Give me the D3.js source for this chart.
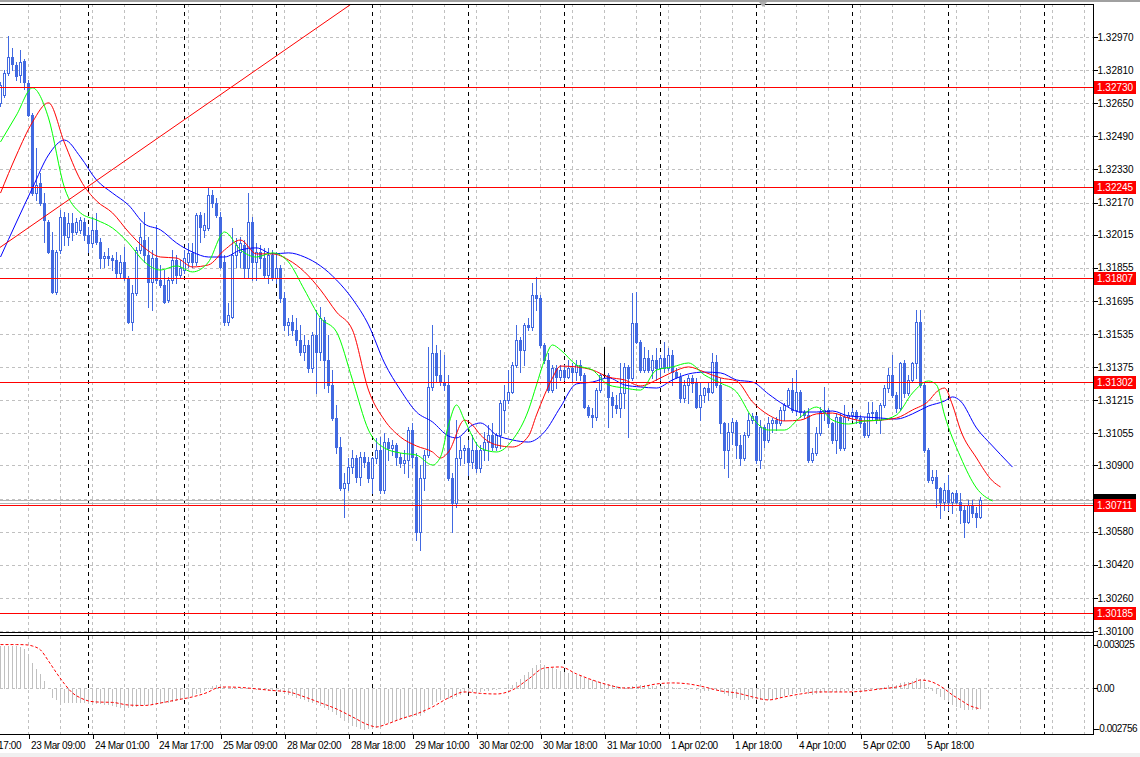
<!DOCTYPE html>
<html><head><meta charset="utf-8">
<script src="https://cdn.jsdelivr.net/npm/d3@7/dist/d3.min.js"></script>
<style>
html,body{margin:0;padding:0;background:#fff;overflow:hidden;}
svg{display:block;font-family:"Liberation Sans",Arial,sans-serif;}
</style></head><body>
<svg id="chart" width="1140" height="757"></svg>
<script>
// ---------------- DATA (H1 bars, bar index 0..245) ----------------
const opens = [1.32652,1.32690,1.32797,1.32874,1.32835,1.32787,1.32854,1.32748,1.32593,1.32216,
1.32265,1.32168,1.32076,1.31941,1.31738,1.31941,1.32100,1.32004,1.32071,1.32028,
1.32038,1.32076,1.32013,1.31975,1.32038,1.31980,1.31902,1.31912,1.31902,1.31893,
1.31830,1.31883,1.31806,1.31593,1.31733,1.31941,1.31989,1.31917,1.31786,1.31902,
1.31796,1.31772,1.31699,1.31796,1.31893,1.31820,1.31844,1.31883,1.31927,1.31883,
1.32110,1.32038,1.32047,1.32207,1.32168,1.32100,1.31883,1.31593,1.31617,1.31917,
1.31931,1.31965,1.31854,1.32076,1.31883,1.31931,1.31902,1.31820,1.31917,1.31806,
1.31854,1.31709,1.31579,1.31593,1.31554,1.31506,1.31448,1.31482,1.31371,1.31530,
1.31448,1.31603,1.31409,1.31289,1.31129,1.30989,1.30791,1.30815,1.30892,1.30936,
1.30844,1.30941,1.30917,1.30839,1.30936,1.30975,1.30781,1.31013,1.30984,1.30999,
1.30941,1.30912,1.30926,1.31071,1.30941,1.30578,1.30839,1.30950,1.31279,1.31443,
1.31337,1.31303,1.31289,1.30839,1.30719,1.30936,1.30975,1.30984,1.30917,1.30975,
1.30888,1.30975,1.31013,1.31047,1.30989,1.31047,1.31168,1.31216,1.31255,1.31385,
1.31506,1.31458,1.31579,1.31569,1.31724,1.31709,1.31482,1.31409,1.31264,1.31371,
1.31327,1.31361,1.31327,1.31371,1.31351,1.31385,1.31337,1.31182,1.31144,1.31134,
1.31264,1.31337,1.31337,1.31231,1.31192,1.31178,1.31250,1.31376,1.31323,1.31588,
1.31496,1.31361,1.31419,1.31361,1.31409,1.31371,1.31419,1.31371,1.31434,1.31351,
1.31327,1.31226,1.31289,1.31323,1.31298,1.31182,1.31240,1.31274,1.31255,1.31400,
1.31289,1.31105,1.30975,1.31062,1.31110,1.30999,1.30936,1.31047,1.31119,1.31139,
1.30926,1.31086,1.31023,1.31105,1.31119,1.31105,1.31168,1.31192,1.31264,1.31168,
1.31255,1.31158,1.31144,1.30926,1.30960,1.31057,1.31158,1.31168,1.31105,1.31023,
1.31134,1.30984,1.31134,1.31144,1.31158,1.31129,1.31105,1.31047,1.31153,1.31158,
1.31119,1.31192,1.31274,1.31337,1.31240,1.31178,1.31395,1.31250,1.31313,1.31395,
1.31593,1.31289,1.30975,1.30830,1.30844,1.30791,1.30723,1.30781,1.30723,1.30767,
1.30723,1.30685,1.30627,1.30709,1.30670,1.30651];
const highs = [1.32752,1.32811,1.32975,1.32917,1.32849,1.32907,1.32864,1.32762,1.32603,1.32434,
1.32313,1.32216,1.32086,1.32028,1.31941,1.32134,1.32125,1.32120,1.32120,1.32096,
1.32100,1.32096,1.32052,1.32100,1.32120,1.31999,1.31931,1.31951,1.31917,1.31931,
1.31917,1.31955,1.31815,1.31772,1.31955,1.32071,1.32125,1.32004,1.31941,1.32062,
1.31869,1.31844,1.31811,1.31941,1.31917,1.31893,1.31941,1.31975,1.31975,1.32120,
1.32125,1.32120,1.32241,1.32231,1.32192,1.32125,1.31917,1.31685,1.32047,1.31999,
1.32004,1.31989,1.32216,1.32100,1.31975,1.31965,1.31951,1.31951,1.31941,1.31931,
1.31869,1.31738,1.31612,1.31627,1.31612,1.31579,1.31530,1.31506,1.31545,1.31651,
1.31666,1.31617,1.31530,1.31361,1.31192,1.31037,1.30863,1.30936,1.30975,1.30950,
1.30965,1.30965,1.30941,1.30941,1.31033,1.31037,1.31057,1.31033,1.31023,1.31008,
1.30960,1.30975,1.31086,1.31105,1.30960,1.30902,1.30975,1.31472,1.31579,1.31482,
1.31458,1.31434,1.31337,1.30863,1.31119,1.31037,1.30999,1.31023,1.31047,1.31013,
1.30999,1.31062,1.31095,1.31105,1.31057,1.31216,1.31289,1.31361,1.31400,1.31579,
1.31521,1.31588,1.31612,1.31782,1.31811,1.31724,1.31492,1.31443,1.31385,1.31385,
1.31385,1.31385,1.31409,1.31395,1.31409,1.31409,1.31347,1.31192,1.31178,1.31274,
1.31347,1.31472,1.31347,1.31255,1.31240,1.31395,1.31395,1.31385,1.31733,1.31738,
1.31506,1.31472,1.31458,1.31434,1.31467,1.31434,1.31496,1.31467,1.31458,1.31371,
1.31347,1.31313,1.31337,1.31337,1.31323,1.31298,1.31279,1.31298,1.31443,1.31434,
1.31323,1.31110,1.31105,1.31129,1.31119,1.31047,1.31062,1.31153,1.31153,1.31144,
1.31119,1.31095,1.31134,1.31129,1.31134,1.31182,1.31202,1.31274,1.31323,1.31361,
1.31264,1.31168,1.31178,1.30984,1.31086,1.31182,1.31279,1.31178,1.31110,1.31153,
1.31153,1.31192,1.31158,1.31178,1.31168,1.31144,1.31134,1.31207,1.31207,1.31168,
1.31202,1.31289,1.31371,1.31434,1.31255,1.31400,1.31409,1.31337,1.31400,1.31651,
1.31651,1.31298,1.30984,1.30878,1.30878,1.30796,1.30815,1.30854,1.30772,1.30781,
1.30767,1.30709,1.30733,1.30733,1.30699,1.30747];
const lows = [1.32637,1.32680,1.32787,1.32811,1.32762,1.32752,1.32719,1.32588,1.32207,1.32183,
1.32158,1.31980,1.31927,1.31733,1.31728,1.31927,1.31965,1.31965,1.31989,1.32018,
1.32023,1.31989,1.31931,1.31955,1.31970,1.31854,1.31859,1.31869,1.31844,1.31806,
1.31811,1.31796,1.31588,1.31554,1.31724,1.31927,1.31883,1.31666,1.31651,1.31782,
1.31762,1.31685,1.31690,1.31782,1.31782,1.31806,1.31830,1.31859,1.31859,1.31869,
1.31980,1.32004,1.32038,1.32149,1.32100,1.31854,1.31579,1.31579,1.31612,1.31859,
1.31859,1.31811,1.31806,1.31796,1.31796,1.31854,1.31811,1.31782,1.31796,1.31782,
1.31690,1.31554,1.31530,1.31530,1.31482,1.31434,1.31409,1.31351,1.31351,1.31250,
1.31409,1.31274,1.31255,1.31119,1.30960,1.30781,1.30651,1.30781,1.30863,1.30820,
1.30805,1.30892,1.30820,1.30767,1.30912,1.30767,1.30767,1.30926,1.30950,1.30902,
1.30892,1.30863,1.30844,1.30892,1.30540,1.30491,1.30781,1.30941,1.31264,1.31303,
1.31289,1.31264,1.30830,1.30578,1.30699,1.30902,1.30912,1.30854,1.30888,1.30868,
1.30868,1.30926,1.30926,1.30975,1.30975,1.30984,1.31062,1.31202,1.31250,1.31376,
1.31351,1.31385,1.31554,1.31554,1.31651,1.31472,1.31395,1.31255,1.31255,1.31274,
1.31313,1.31313,1.31323,1.31303,1.31313,1.31313,1.31178,1.31134,1.31086,1.31119,
1.31255,1.31327,1.31086,1.31134,1.31153,1.31134,1.31178,1.31037,1.31313,1.31492,
1.31351,1.31351,1.31351,1.31323,1.31313,1.31313,1.31351,1.31361,1.31289,1.31323,
1.31207,1.31207,1.31202,1.31255,1.31178,1.31119,1.31207,1.31216,1.31250,1.31279,
1.31057,1.30888,1.30844,1.31004,1.30936,1.30902,1.30926,1.31037,1.31105,1.30912,
1.30888,1.30989,1.31013,1.31062,1.31071,1.31095,1.31119,1.31182,1.31158,1.31144,
1.31134,1.31129,1.30917,1.30917,1.30950,1.31047,1.31119,1.31086,1.31008,1.30960,
1.30975,1.30975,1.31119,1.31119,1.31105,1.31086,1.31037,1.31037,1.31119,1.31105,
1.31057,1.31182,1.31255,1.31231,1.31158,1.31168,1.31231,1.31240,1.31303,1.31323,
1.31279,1.30965,1.30820,1.30815,1.30699,1.30646,1.30685,1.30685,1.30670,1.30719,
1.30622,1.30554,1.30622,1.30651,1.30602,1.30646];
const closes = [1.32738,1.32797,1.32874,1.32840,1.32782,1.32849,1.32752,1.32593,1.32216,1.32255,
1.32168,1.32086,1.31931,1.31738,1.31931,1.32100,1.32013,1.32071,1.32028,1.32076,
1.32086,1.32013,1.31975,1.32038,1.31980,1.31902,1.31912,1.31902,1.31893,1.31830,
1.31883,1.31806,1.31593,1.31733,1.31941,1.32004,1.31917,1.31786,1.31902,1.31796,
1.31772,1.31690,1.31796,1.31893,1.31820,1.31854,1.31902,1.31927,1.31883,1.32110,
1.32052,1.32062,1.32207,1.32168,1.32110,1.31859,1.31593,1.31627,1.31917,1.31965,
1.31975,1.31854,1.32076,1.31883,1.31931,1.31902,1.31820,1.31917,1.31806,1.31854,
1.31709,1.31579,1.31593,1.31554,1.31506,1.31448,1.31482,1.31371,1.31530,1.31448,
1.31612,1.31409,1.31289,1.31129,1.30989,1.30791,1.30815,1.30892,1.30936,1.30844,
1.30941,1.30917,1.30839,1.30936,1.30975,1.30781,1.31013,1.30984,1.30999,1.30941,
1.30912,1.30926,1.31071,1.30941,1.30578,1.30839,1.30950,1.31279,1.31443,1.31337,
1.31303,1.31289,1.30839,1.30719,1.30936,1.30975,1.30984,1.30917,1.30975,1.30888,
1.30975,1.31013,1.31047,1.30989,1.31047,1.31202,1.31216,1.31255,1.31385,1.31506,
1.31458,1.31579,1.31569,1.31724,1.31709,1.31482,1.31409,1.31264,1.31371,1.31327,
1.31361,1.31327,1.31371,1.31351,1.31385,1.31337,1.31182,1.31144,1.31134,1.31264,
1.31337,1.31337,1.31231,1.31192,1.31178,1.31250,1.31376,1.31323,1.31588,1.31496,
1.31361,1.31419,1.31361,1.31409,1.31371,1.31419,1.31371,1.31434,1.31351,1.31327,
1.31226,1.31289,1.31323,1.31298,1.31182,1.31240,1.31274,1.31255,1.31400,1.31289,
1.31105,1.30975,1.31062,1.31110,1.30999,1.30936,1.31047,1.31119,1.31139,1.30926,
1.31086,1.31023,1.31105,1.31119,1.31105,1.31168,1.31192,1.31264,1.31168,1.31255,
1.31158,1.31144,1.30926,1.30960,1.31057,1.31158,1.31168,1.31105,1.31023,1.31134,
1.30984,1.31134,1.31144,1.31158,1.31129,1.31105,1.31047,1.31153,1.31158,1.31119,
1.31192,1.31274,1.31337,1.31240,1.31178,1.31395,1.31250,1.31313,1.31395,1.31593,
1.31289,1.30975,1.30830,1.30844,1.30791,1.30723,1.30781,1.30723,1.30767,1.30723,
1.30685,1.30627,1.30709,1.30670,1.30651,1.30733];

// Alligator lines: [bar index (shifted), price]
const jawLine = [[0,1.31907],[4,1.32076],[8,1.32241],[12,1.32400],[16,1.32472],[20,1.32390],[24,1.32279],[28,1.32216],
[32,1.32158],[36,1.32067],[40,1.32038],[44,1.31975],[48,1.31931],[52,1.31907],[56,1.31907],[60,1.31941],[64,1.31951],
[68,1.31922],[72,1.31927],[76,1.31907],[80,1.31864],[84,1.31796],[88,1.31704],[92,1.31579],[96,1.31395],[100,1.31264],
[104,1.31158],[108,1.31110],[112,1.31042],[114,1.31033],[118,1.31095],[120,1.31105],[124,1.31047],[128,1.31023],
[132,1.31013],[136,1.31062],[140,1.31182],[144,1.31294],[148,1.31303],[152,1.31323],[156,1.31289],[160,1.31279],
[164,1.31274],[168,1.31313],[172,1.31342],[176,1.31351],[180,1.31347],[184,1.31313],[188,1.31303],[192,1.31245],
[196,1.31192],[200,1.31158],[204,1.31158],[208,1.31163],[212,1.31139],[216,1.31134],[220,1.31129],[224,1.31124],
[228,1.31149],[232,1.31187],[236,1.31211],[238,1.31231],[240,1.31211],[244,1.31081],[248,1.30994],[252,1.30912],[253,1.30892]];
const teethLine = [[0,1.32216],[4,1.32400],[8,1.32559],[12,1.32652],[16,1.32458],[20,1.32279],[24,1.32178],[28,1.32120],
[32,1.32028],[36,1.31951],[40,1.31907],[44,1.31902],[48,1.31859],[52,1.31869],[56,1.31941],[60,1.31989],[64,1.31922],
[68,1.31922],[72,1.31893],[76,1.31835],[80,1.31748],[84,1.31641],[88,1.31554],[92,1.31264],[96,1.31119],[100,1.31037],
[104,1.30994],[108,1.30965],[110,1.30936],[112,1.30965],[116,1.31119],[118,1.31095],[120,1.31047],[124,1.30999],
[128,1.30989],[132,1.31042],[134,1.31144],[136,1.31240],[138,1.31323],[140,1.31380],[144,1.31376],[148,1.31361],
[152,1.31327],[156,1.31313],[160,1.31284],[164,1.31313],[168,1.31351],[172,1.31376],[176,1.31351],[180,1.31323],
[184,1.31308],[188,1.31207],[192,1.31144],[196,1.31115],[200,1.31119],[204,1.31149],[208,1.31153],[212,1.31129],
[216,1.31115],[220,1.31119],[224,1.31129],[228,1.31168],[232,1.31211],[234,1.31255],[236,1.31274],[238,1.31192],
[240,1.31071],[244,1.30936],[248,1.30825],[250,1.30796]];
const lipsLine = [[0,1.32463],[4,1.32593],[8,1.32724],[12,1.32579],[16,1.32241],[20,1.32120],[24,1.32086],[28,1.32047],
[32,1.31975],[36,1.31883],[40,1.31844],[44,1.31864],[48,1.31835],[52,1.31883],[56,1.32028],[60,1.31941],[64,1.31907],
[68,1.31927],[72,1.31883],[76,1.31748],[80,1.31612],[84,1.31545],[88,1.31313],[92,1.31071],[96,1.30984],[100,1.30960],
[104,1.30950],[108,1.30902],[110,1.30941],[112,1.31095],[114,1.31192],[116,1.31119],[120,1.30984],[124,1.30965],
[128,1.31023],[132,1.31168],[134,1.31289],[136,1.31409],[138,1.31482],[140,1.31458],[144,1.31385],[148,1.31361],
[152,1.31289],[156,1.31274],[160,1.31264],[164,1.31361],[168,1.31376],[172,1.31395],[176,1.31337],[180,1.31298],
[184,1.31255],[188,1.31129],[192,1.31071],[196,1.31071],[200,1.31134],[204,1.31182],[208,1.31119],[212,1.31100],
[216,1.31115],[220,1.31119],[224,1.31144],[228,1.31250],[232,1.31308],[234,1.31289],[236,1.31144],[240,1.30941],
[244,1.30791],[248,1.30728]];

// MACD main (histogram) per bar and signal line samples
const macdMain = [30.0e-4,30.1e-4,30.25e-4,30.1e-4,29.8e-4,29.0e-4,27.5e-4,24.0e-4,18.0e-4,14.0e-4,
10.5e-4,5.5e-4,0.5e-4,-6.0e-4,-7.5e-4,-9.0e-4,-9.5e-4,-9.6e-4,-9.4e-4,-9.2e-4,
-9.4e-4,-9.6e-4,-9.8e-4,-9.8e-4,-10.0e-4,-10.3e-4,-10.6e-4,-11.0e-4,-11.4e-4,-11.8e-4,
-12.8e-4,-13.2e-4,-13.0e-4,-12.4e-4,-11.8e-4,-11.2e-4,-10.8e-4,-10.6e-4,-10.4e-4,-10.2e-4,
-10.0e-4,-9.6e-4,-9.2e-4,-8.8e-4,-8.2e-4,-7.6e-4,-6.6e-4,-5.8e-4,-4.8e-4,-3.4e-4,
-2.2e-4,-0.8e-4,1.0e-4,2.2e-4,3.2e-4,3.0e-4,1.8e-4,0.6e-4,0.8e-4,1.0e-4,
0.6e-4,0.2e-4,0.8e-4,0.4e-4,-0.2e-4,-0.4e-4,-0.6e-4,-0.8e-4,-1.0e-4,-1.4e-4,
-2.0e-4,-2.8e-4,-3.6e-4,-4.6e-4,-5.6e-4,-6.6e-4,-7.6e-4,-8.6e-4,-9.4e-4,-10.4e-4,
-11.4e-4,-12.6e-4,-13.8e-4,-15.6e-4,-17.6e-4,-19.8e-4,-21.6e-4,-23.4e-4,-25.0e-4,-26.0e-4,
-27.0e-4,-27.56e-4,-27.4e-4,-27.0e-4,-26.4e-4,-25.6e-4,-24.0e-4,-23.2e-4,-22.4e-4,-21.6e-4,
-20.8e-4,-20.0e-4,-19.0e-4,-18.0e-4,-18.6e-4,-18.0e-4,-16.0e-4,-13.0e-4,-10.6e-4,-8.6e-4,
-7.2e-4,-6.8e-4,-6.6e-4,-6.8e-4,-5.0e-4,-3.6e-4,-2.6e-4,-2.0e-4,-1.8e-4,-1.6e-4,
-1.6e-4,-1.2e-4,-0.8e-4,-0.6e-4,-0.2e-4,0.6e-4,1.2e-4,2.0e-4,3.2e-4,5.2e-4,
7.4e-4,9.8e-4,12.2e-4,14.8e-4,17.0e-4,17.8e-4,17.0e-4,15.6e-4,14.6e-4,13.8e-4,
13.0e-4,12.2e-4,11.4e-4,10.6e-4,10.0e-4,9.2e-4,8.2e-4,7.0e-4,6.2e-4,5.6e-4,
5.0e-4,4.4e-4,3.6e-4,2.8e-4,2.2e-4,1.8e-4,1.6e-4,1.6e-4,2.6e-4,3.4e-4,
3.2e-4,2.8e-4,2.6e-4,2.4e-4,2.2e-4,2.4e-4,2.6e-4,2.2e-4,1.8e-4,1.2e-4,
0.6e-4,0.2e-4,-0.2e-4,0.0,-0.4e-4,-1.0e-4,-1.2e-4,-1.0e-4,-0.4e-4,-0.6e-4,
-1.6e-4,-3.2e-4,-4.8e-4,-5.6e-4,-6.2e-4,-7.0e-4,-7.2e-4,-7.0e-4,-6.6e-4,-7.2e-4,
-7.4e-4,-7.6e-4,-7.2e-4,-6.8e-4,-6.4e-4,-5.6e-4,-4.8e-4,-3.8e-4,-3.0e-4,-2.2e-4,
-2.0e-4,-2.0e-4,-3.2e-4,-3.8e-4,-3.4e-4,-2.6e-4,-1.8e-4,-1.6e-4,-2.0e-4,-1.6e-4,
-2.0e-4,-1.4e-4,-1.0e-4,-0.8e-4,-0.6e-4,-0.6e-4,-0.8e-4,-0.4e-4,0.0,0.2e-4,
0.8e-4,1.6e-4,2.8e-4,3.4e-4,3.2e-4,4.4e-4,5.0e-4,5.2e-4,6.0e-4,7.8e-4,
7.4e-4,5.0e-4,2.0e-4,-1.0e-4,-3.0e-4,-5.0e-4,-7.0e-4,-8.8e-4,-10.4e-4,-11.8e-4,
-13.0e-4,-14.0e-4,-14.4e-4,-14.2e-4,-14.0e-4,-13.6e-4];
const macdSignal = [[0,30.2e-4],[4,30.2e-4],[6,30.1e-4],[8,29.2e-4],[10,26.5e-4],[12,18.9e-4],[14,10.7e-4],[16,3.1e-4],
[18,-3.1e-4],[20,-6.5e-4],[22,-8.6e-4],[24,-9.3e-4],[28,-9.6e-4],[32,-11.4e-4],[36,-11.7e-4],[40,-10.0e-4],[44,-7.9e-4],
[48,-5.8e-4],[52,-2.4e-4],[54,0.3e-4],[56,1.0e-4],[60,0.7e-4],[64,-0.3e-4],[68,-1.4e-4],[72,-2.4e-4],[76,-5.8e-4],
[80,-9.9e-4],[84,-14.1e-4],[88,-19.6e-4],[92,-25.1e-4],[94,-26.5e-4],[96,-25.1e-4],[100,-21.0e-4],[104,-17.5e-4],
[108,-12.7e-4],[112,-6.5e-4],[116,-2.4e-4],[120,-3.4e-4],[124,-3.8e-4],[128,-1.0e-4],[132,6.5e-4],[136,14.1e-4],
[140,14.8e-4],[144,10.0e-4],[148,5.8e-4],[152,2.4e-4],[156,0.3e-4],[160,1.0e-4],[164,3.1e-4],[168,3.8e-4],[172,3.1e-4],
[176,1.0e-4],[180,-1.7e-4],[184,-3.1e-4],[188,-5.8e-4],[192,-7.9e-4],[196,-5.8e-4],[200,-3.8e-4],[204,-2.4e-4],
[208,-2.4e-4],[212,-2.4e-4],[216,-1.7e-4],[220,-0.3e-4],[224,1.0e-4],[228,3.8e-4],[230,5.8e-4],[232,5.2e-4],
[234,3.1e-4],[236,-0.3e-4],[238,-4.5e-4],[240,-7.9e-4],[242,-11.4e-4],[245,-14.1e-4]];

const levels = [1.32730,1.32245,1.31807,1.31302,1.30711,1.30185];
const trendPoints = [[0,1.31955],[87,1.33120]];
const bidPrice = 1.30733;
const secondPriceLine = 1.30720;
const priceTicks = [1.32970,1.32810,1.32650,1.32490,1.32330,1.32170,1.32015,1.31855,1.31695,1.31535,
1.31375,1.31215,1.31055,1.30900,1.30740,1.30580,1.30420,1.30260,1.30100];
const macdTicks = [0.003025,0,-0.002756];
const macdTickLabels = ["0.003025","0.00","-0.002756"];
const timeLabelBars = [-9,7,23,39,55,71,87,103,119,135,151,167,183,199,215,231];
const timeLabels = ["22 Mar 17:00","23 Mar 09:00","24 Mar 01:00","24 Mar 17:00","25 Mar 09:00","28 Mar 02:00",
"28 Mar 18:00","29 Mar 10:00","30 Mar 02:00","30 Mar 18:00","31 Mar 10:00","1 Apr 02:00","1 Apr 18:00",
"4 Apr 10:00","5 Apr 02:00","5 Apr 18:00"];
const separatorBars = [22,46,69,93,117,141,165,189,213,237,261];

// ---------------- DRAWING ----------------
const svg = d3.select('#chart');
const R = 1093;               // right edge of plot / axis line
const mainTop = 4, mainBot = 632, indTop = 636, indBot = 734;
const candleColor = '#4169e1';
const FONT = '"Liberation Sans",Arial,sans-serif';

const x = d3.scaleLinear().domain([0,273]).range([0.5,1092.5]);
const y = d3.scaleLinear().domain([1.30100,1.32970]).range([631,37]);
const yM = d3.scaleLinear().domain([-0.002756,0.003025]).range([728.5,644.5]);

svg.append('rect').attr('width',1140).attr('height',757).attr('fill','#fff');
svg.append('rect').attr('x',0).attr('y',0).attr('width',1140).attr('height',2).attr('fill','#a0a0a0');
svg.append('rect').attr('x',0).attr('y',753).attr('width',1140).attr('height',4).attr('fill','#f0f0f0');

const defs = svg.append('defs');
defs.append('clipPath').attr('id','clipMain').append('rect').attr('x',0).attr('y',mainTop).attr('width',R).attr('height',mainBot-mainTop);
defs.append('clipPath').attr('id','clipInd').append('rect').attr('x',0).attr('y',indTop).attr('width',R).attr('height',indBot-indTop);

const gMain = svg.append('g').attr('clip-path','url(#clipMain)');
const gInd = svg.append('g').attr('clip-path','url(#clipInd)');

// grid
const gridBars = d3.range(-1, 35).map(k => 7 + 8*k);
[ [gMain, mainTop, mainBot], [gInd, indTop, indBot] ].forEach(([g, t, b]) => {
  g.selectAll(null).data(gridBars).join('line')
    .attr('x1', d => x(d)).attr('x2', d => x(d)).attr('y1', t).attr('y2', b)
    .attr('stroke','#c0c0c0').attr('stroke-dasharray','3,3').attr('shape-rendering','crispEdges');
});
gMain.selectAll(null).data(priceTicks).join('line')
  .attr('x1',0).attr('x2',R).attr('y1',d=>Math.round(y(d))+0.5).attr('y2',d=>Math.round(y(d))+0.5)
  .attr('stroke','#c0c0c0').attr('stroke-dasharray','3,3').attr('shape-rendering','crispEdges');
gInd.append('line').attr('x1',0).attr('x2',R).attr('y1',Math.round(yM(0))+0.5).attr('y2',Math.round(yM(0))+0.5)
  .attr('stroke','#c0c0c0').attr('stroke-dasharray','3,3').attr('shape-rendering','crispEdges');

// period separators
[ [gMain, mainTop, mainBot], [gInd, indTop, indBot] ].forEach(([g, t, b]) => {
  g.selectAll(null).data(separatorBars).join('line')
    .attr('x1', d => x(d)).attr('x2', d => x(d)).attr('y1', t).attr('y2', b)
    .attr('stroke','#000').attr('stroke-dasharray','4,4').attr('shape-rendering','crispEdges');
});

// price lines (bid etc.)
[bidPrice, secondPriceLine].forEach(p => {
  gMain.append('line').attr('x1',0).attr('x2',R).attr('y1',Math.round(y(p))+0.5).attr('y2',Math.round(y(p))+0.5)
    .attr('stroke','#b4b4b4').attr('shape-rendering','crispEdges');
});

// candles
const bars = opens.map((o,i)=>({i,o,h:highs[i],l:lows[i],c:closes[i]}));
const gC = gMain.append('g').attr('shape-rendering','crispEdges');
gC.selectAll('line.wick').data(bars).join('line').attr('class','wick')
  .attr('x1',d=>x(d.i)).attr('x2',d=>x(d.i))
  .attr('y1',d=>Math.round(y(d.h))).attr('y2',d=>Math.round(y(d.l))+1)
  .attr('stroke',d=>d.o===d.c?'#000':candleColor);
gC.selectAll('rect.bear').data(bars.filter(d=>d.c<d.o)).join('rect').attr('class','bear')
  .attr('x',d=>x(d.i)-1.5).attr('width',3)
  .attr('y',d=>Math.round(y(d.o)))
  .attr('height',d=>Math.max(1,Math.round(y(d.c))-Math.round(y(d.o))+1))
  .attr('fill',candleColor);
gC.selectAll('rect.bull').data(bars.filter(d=>d.c>d.o)).join('rect').attr('class','bull')
  .attr('x',d=>x(d.i)-1).attr('width',2)
  .attr('y',d=>Math.round(y(d.c))+0.5)
  .attr('height',d=>Math.max(0.01,Math.round(y(d.o))-Math.round(y(d.c))))
  .attr('fill','#fff').attr('stroke',candleColor);
gC.selectAll('line.doji').data(bars.filter(d=>d.c===d.o)).join('line').attr('class','doji')
  .attr('x1',d=>x(d.i)-1.5).attr('x2',d=>x(d.i)+1.5)
  .attr('y1',d=>Math.round(y(d.o))+0.5).attr('y2',d=>Math.round(y(d.o))+0.5).attr('stroke','#000');

// Alligator
const lineGen = d3.line().x(d=>x(d[0])).y(d=>y(d[1])).curve(d3.curveMonotoneX);
[[jawLine,'#0000ff'],[teethLine,'#ff0000'],[lipsLine,'#00ff00']].forEach(([data,col])=>{
  gMain.append('path').attr('d',lineGen(data)).attr('fill','none').attr('stroke',col).attr('stroke-width',1);
});

// horizontal levels and trendline
gMain.selectAll(null).data(levels).join('line')
  .attr('x1',0).attr('x2',R).attr('y1',d=>Math.round(y(d))+0.5).attr('y2',d=>Math.round(y(d))+0.5)
  .attr('stroke','#ff0000').attr('stroke-width',1).attr('shape-rendering','crispEdges');
const trend = d3.scaleLinear().domain([trendPoints[0][0],trendPoints[1][0]]).range([trendPoints[0][1],trendPoints[1][1]]);
gMain.append('line').attr('x1',x(-2)).attr('y1',y(trend(-2))).attr('x2',x(100)).attr('y2',y(trend(100)))
  .attr('stroke','#ff0000').attr('stroke-width',1);

// MACD histogram + signal
gInd.selectAll(null).data(macdMain.map((v,i)=>({i,v})).filter(d=>d.v!==0)).join('line')
  .attr('x1',d=>x(d.i)).attr('x2',d=>x(d.i))
  .attr('y1',d=>Math.round(yM(0))+0.5).attr('y2',d=>Math.round(yM(d.v))+0.5)
  .attr('stroke','#c0c0c0').attr('shape-rendering','crispEdges');
const sigGen = d3.line().x(d=>x(d[0])).y(d=>yM(d[1])).curve(d3.curveMonotoneX);
gInd.append('path').attr('d',sigGen(macdSignal)).attr('fill','none').attr('stroke','#ff0000')
  .attr('stroke-width',1).attr('stroke-dasharray','3,2');

// frames
const frame = svg.append('g').attr('stroke','#000').attr('shape-rendering','crispEdges');
frame.append('line').attr('x1',0).attr('x2',R).attr('y1',mainTop+0.5).attr('y2',mainTop+0.5);
frame.append('line').attr('x1',0).attr('x2',R).attr('y1',mainBot+0.5).attr('y2',mainBot+0.5);
frame.append('line').attr('x1',0).attr('x2',R).attr('y1',indTop-0.5).attr('y2',indTop-0.5);
frame.append('line').attr('x1',0).attr('x2',R+0.5).attr('y1',indBot+0.5).attr('y2',indBot+0.5);
frame.append('line').attr('x1',R+0.5).attr('x2',R+0.5).attr('y1',mainTop).attr('y2',indBot+1);

// shift marker
svg.append('path').attr('d','M759,2 L767,2 L763,7 Z').attr('fill','#b0b0b0');

// axes
const styleAxis = g => {
  g.select('.domain').remove();
  g.selectAll('.tick line').attr('stroke','#000').attr('shape-rendering','crispEdges');
  g.selectAll('.tick text').attr('fill','#000').style('font-size','10px').style('font-family',FONT);
};
svg.append('g').attr('transform',`translate(${R+0.5},0)`)
  .call(d3.axisRight(y).tickValues(priceTicks).tickFormat(d3.format('.5f')).tickSize(4).tickPadding(0))
  .call(styleAxis);
const macdAxisG = svg.append('g').attr('transform',`translate(${R+0.5},0)`)
  .call(d3.axisRight(yM).tickValues(macdTicks).tickFormat((d,i)=>macdTickLabels[i]).tickSize(4).tickPadding(0))
  .call(styleAxis);
macdAxisG.selectAll('.tick text').attr('x',3).style('letter-spacing','-0.5px');
const xAxisG = svg.append('g').attr('transform',`translate(0,${indBot+0.5})`)
  .call(d3.axisBottom(x).tickValues(timeLabelBars).tickFormat((d,i)=>timeLabels[i]).tickSize(4).tickPadding(3))
  .call(styleAxis);
xAxisG.selectAll('.tick text').attr('text-anchor','start').attr('x',2).style('letter-spacing','-0.4px');

// axis labels for bid (mostly hidden) and levels
const lab = svg.append('g').style('font-size','10px').style('font-family',FONT);
const bidY = Math.round(y(bidPrice));
lab.append('rect').attr('x',R+1).attr('y',bidY-6).attr('width',42).attr('height',13).attr('fill','#000');
levels.forEach(p=>{
  const yy = Math.round(y(p));
  lab.append('rect').attr('x',R+1).attr('y',yy-6).attr('width',42).attr('height',13).attr('fill','#ff0000');
  lab.append('text').attr('x',R+4).attr('y',yy).attr('dy','0.35em').attr('fill','#fff').text(d3.format('.5f')(p));
});
</script>
</body></html>
